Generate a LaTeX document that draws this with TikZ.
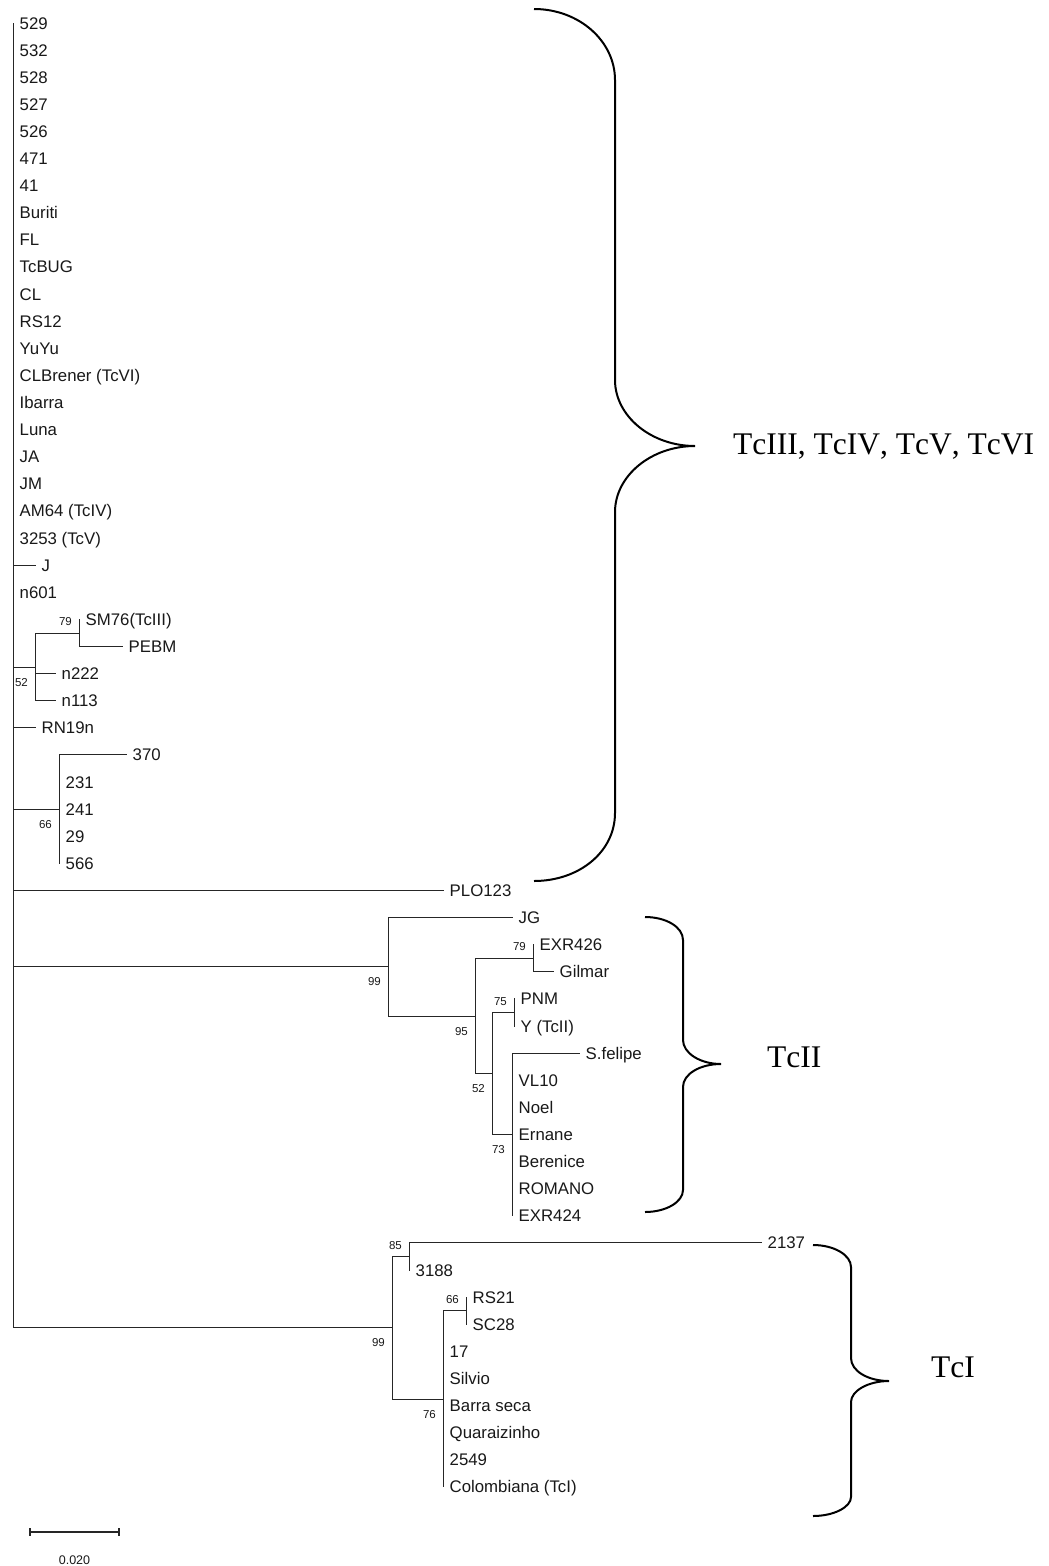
\documentclass[tikz,border=0pt]{standalone}
\usepackage{fontspec}
\setmainfont{Liberation Sans}
\newfontfamily\timesfont[Kerning=Off]{Liberation Serif}
\begin{document}
\begin{tikzpicture}[x=1pt,y=-1pt,
  br/.style={line width=1pt,draw=black!85,line cap=rect},
  lab/.style={inner sep=0pt,anchor=base west,font=\fontsize{16.8}{18}\selectfont,text=black!90},
  boot/.style={inner sep=0pt,anchor=base east,font=\fontsize{11.5}{13}\selectfont,text=black!90},
  brace/.style={line width=2pt,draw=black},
  clade/.style={inner sep=0pt,anchor=base west,font=\timesfont\fontsize{31.5}{34}\selectfont}]
\useasboundingbox[fill=white] (0,0) rectangle (1049,1566);
% leaf macro: name, tip x, row, text
\newcommand\tipleaf[4]{%
  \coordinate (#1) at (#2,{23+27.11*#3});
  \node[lab,xshift=6.5pt,yshift=-6pt] (#1-l) at (#1) {#4};}
\newcommand\bsbelow[2]{\node[boot,xshift=-7pt,yshift=-19pt] (b-#1) at (#1) {#2};}
\newcommand\bsabove[2]{\node[boot,xshift=-7pt,yshift=7.5pt] (b-#1) at (#1) {#2};}
% clade macro: parent, first child, last child, list of children with a branch
\newcommand\clade[4]{%
  \draw[br] (#1 |- #2) -- (#1 |- #3);
  \foreach \c in {#4} \draw[br] (#1 |- \c) -- (\c);}
% ---------- leaves ----------
\tipleaf{t529}{13}{0}{529}
\tipleaf{t532}{13}{1}{532}
\tipleaf{t528}{13}{2}{528}
\tipleaf{t527}{13}{3}{527}
\tipleaf{t526}{13}{4}{526}
\tipleaf{t471}{13}{5}{471}
\tipleaf{t41}{13}{6}{41}
\tipleaf{tBuriti}{13}{7}{Buriti}
\tipleaf{tFL}{13}{8}{FL}
\tipleaf{tTcBUG}{13}{9}{TcBUG}
\tipleaf{tCL}{13}{10}{CL}
\tipleaf{tRS12}{13}{11}{RS12}
\tipleaf{tYuYu}{13}{12}{YuYu}
\tipleaf{tCLB}{13}{13}{CLBrener (TcVI)}
\tipleaf{tIbarra}{13}{14}{Ibarra}
\tipleaf{tLuna}{13}{15}{Luna}
\tipleaf{tJA}{13}{16}{JA}
\tipleaf{tJM}{13}{17}{JM}
\tipleaf{tAM64}{13}{18}{AM64 (TcIV)}
\tipleaf{t3253}{13}{19}{3253 (TcV)}
\tipleaf{tJ}{35}{20}{J}
\tipleaf{tn601}{13}{21}{n601}
\tipleaf{tSM76}{79}{22}{SM76(TcIII)}
\tipleaf{tPEBM}{122}{23}{PEBM}
\tipleaf{tn222}{55}{24}{n222}
\tipleaf{tn113}{55}{25}{n113}
\tipleaf{tRN19n}{35}{26}{RN19n}
\tipleaf{t370}{126}{27}{370}
\tipleaf{t231}{59}{28}{231}
\tipleaf{t241}{59}{29}{241}
\tipleaf{t29}{59}{30}{29}
\tipleaf{t566}{59}{31}{566}
\tipleaf{tPLO}{443}{32}{PLO123}
\tipleaf{tJG}{512}{33}{JG}
\tipleaf{tEXR426}{533}{34}{EXR426}
\tipleaf{tGilmar}{553}{35}{Gilmar}
\tipleaf{tPNM}{514}{36}{PNM}
\tipleaf{tY}{514}{37}{Y (TcII)}
\tipleaf{tSfel}{579}{38}{S.felipe}
\tipleaf{tVL10}{512}{39}{VL10}
\tipleaf{tNoel}{512}{40}{Noel}
\tipleaf{tErnane}{512}{41}{Ernane}
\tipleaf{tBer}{512}{42}{Berenice}
\tipleaf{tROM}{512}{43}{ROMANO}
\tipleaf{tEXR424}{512}{44}{EXR424}
\tipleaf{t2137}{761}{45}{2137}
\tipleaf{t3188}{409}{46}{3188}
\tipleaf{tRS21}{466}{47}{RS21}
\tipleaf{tSC28}{466}{48}{SC28}
\tipleaf{t17}{443}{49}{17}
\tipleaf{tSilvio}{443}{50}{Silvio}
\tipleaf{tBarra}{443}{51}{Barra seca}
\tipleaf{tQuar}{443}{52}{Quaraizinho}
\tipleaf{t2549}{443}{53}{2549}
\tipleaf{tCol}{443}{54}{Colombiana (TcI)}
% ---------- internal nodes ----------
\coordinate (n79) at (79,633);
\coordinate (n52) at (35,667);
\coordinate (n66) at (59,809.2);
\coordinate (nEX) at (533,958.3);
\coordinate (n75) at (514,1012.6);
\coordinate (n73) at (512,1134.5);
\coordinate (n52b) at (492,1073.5);
\coordinate (n95) at (475,1016);
\coordinate (nII) at (388,966.8);
\coordinate (n66b) at (466,1310.8);
\coordinate (n76) at (443,1399);
\coordinate (n85) at (409,1256.5);
\coordinate (nI) at (392,1327.7);
\coordinate (root) at (13,1327.7);
% ---------- branches ----------
\clade{root}{t529}{nI}{tJ,n52,tRN19n,n66,tPLO,nII,nI}
\clade{n79}{tSM76}{tPEBM}{tPEBM}
\clade{n52}{n79}{tn113}{n79,tn222,tn113}
\clade{n66}{t370}{t566}{t370}
\clade{nII}{tJG}{n95}{tJG,n95}
\clade{n95}{nEX}{n52b}{nEX,n52b}
\clade{nEX}{tEXR426}{tGilmar}{tGilmar}
\clade{n52b}{n75}{n73}{n75,n73}
\clade{n75}{tPNM}{tY}{tY}
\clade{n73}{tSfel}{tEXR424}{tSfel}
\clade{nI}{n85}{n76}{n85,n76}
\clade{n85}{t2137}{t3188}{t2137}
\clade{n76}{n66b}{tCol}{n66b}
\clade{n66b}{tRS21}{tSC28}{tRS21}
% ---------- bootstrap values ----------
\bsabove{n79}{79}
\bsbelow{n52}{52}
\bsbelow{n66}{66}
\bsbelow{nII}{99}
\bsabove{nEX}{79}
\bsbelow{n95}{95}
\bsabove{n75}{75}
\bsbelow{n52b}{52}
\bsbelow{n73}{73}
\bsabove{n85}{85}
\bsbelow{nI}{99}
\bsabove{n66b}{66}
\bsbelow{n76}{76}
% ---------- scale bar ----------
\coordinate (sbL) at (30,1532);
\coordinate (sbR) at (119,1532);
\draw[line width=1.1pt,draw=black!85] (sbL) -- (sbR);
\draw[line width=1.1pt,draw=black!85] ([yshift=4pt]sbL) -- ([yshift=-4pt]sbL);
\draw[line width=1.1pt,draw=black!85] ([yshift=4pt]sbR) -- ([yshift=-4pt]sbR);
\node[inner sep=0pt,anchor=base,font=\fontsize{12.5}{14}\selectfont,text=black!90] (sbtext) at (74.5,1564) {0.020};
% ---------- braces ----------
\draw[brace] (534,9) .. controls (579,9) and (615,41) .. (615,80) -- (615,380)
  .. controls (615,416) and (651,446) .. (695,446)
  .. controls (651,446) and (615,476) .. (615,512) -- (615,813)
  .. controls (615,852) and (579,881) .. (534,881);
\node[clade] (cl1) at (733,454) {TcIII, TcIV, TcV, TcVI};
\draw[brace] (645,917) .. controls (666,917) and (683,927) .. (683,940) -- (683,1040)
  .. controls (683,1053) and (700,1064) .. (721,1064)
  .. controls (700,1064) and (683,1074) .. (683,1087) -- (683,1190)
  .. controls (683,1202) and (666,1212) .. (645,1212);
\node[clade] (cl2) at (767,1067) {TcII};
\draw[brace] (813,1245) .. controls (834,1245) and (851,1255) .. (851,1267) -- (851,1358)
  .. controls (851,1371) and (868,1381) .. (889,1381)
  .. controls (868,1381) and (851,1391) .. (851,1402) -- (851,1497)
  .. controls (851,1507) and (834,1516) .. (813,1516);
\node[clade] (cl3) at (931,1377) {TcI};
\end{tikzpicture}
\end{document}
